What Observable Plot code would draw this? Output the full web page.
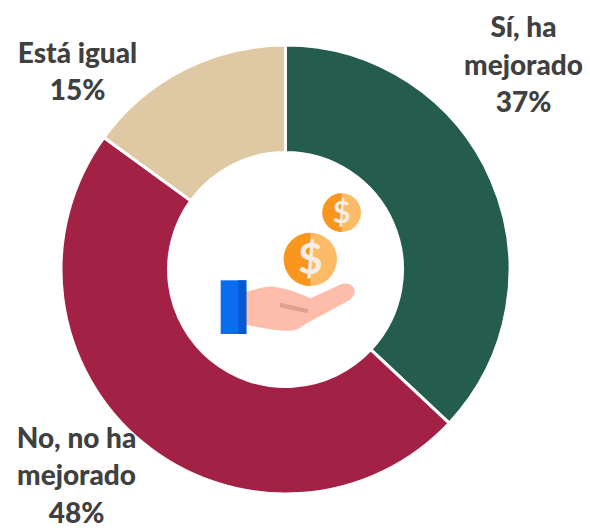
<!DOCTYPE html>
<html><head><meta charset="utf-8">
<style>html,body{margin:0;padding:0;background:#fff}svg{display:block}</style>
<script src="https://cdn.jsdelivr.net/npm/d3@7"></script>
<script src="https://cdn.jsdelivr.net/npm/@observablehq/plot@0.6"></script>
</head><body><div id="c"></div>
<script>
const categories = ["Sí, ha\nmejorado", "No, no ha\nmejorado", "Está igual"];
const shares = [37, 48, 15];
const colors = ["#245C4E", "#A32145", "#DFC9A4"];

const W = 590, H = 528, CX = 285.5, CY = 269.5, R = 224.5, INNER = 117 / R;
const labelAt = [[523, 62], [76, 472.5], [77, 69]];
const rows = categories.map((c, i) => ({category: c, share: shares[i], text: `${c}\n${shares[i]}%`,
  lx: (labelAt[i][0] - CX) / R, ly: (CY - labelAt[i][1]) / R}));
const pie = d3.pie().value(d => d.share).sort(null)(rows);

function slices(index, scales) {
  const k = scales.x(1) - scales.x(0), ox = scales.x(0), oy = scales.y(0);
  const arc = d3.arc().innerRadius(INNER * k).outerRadius(k);
  const g = d3.create("svg:g").attr("transform", `translate(${ox},${oy})`);
  for (const i of index) {
    g.append("path").attr("d", arc(pie[i])).attr("fill", scales.color(pie[i].data.category))
      .attr("stroke", "#fff").attr("stroke-width", 3).attr("stroke-linejoin", "miter");
  }
  return g.node();
}

function icon(index, scales) {
  const g = d3.create("svg:g")
    .attr("transform", `translate(${scales.x(0)},${scales.y(0)}) translate(${200 - CX},${180 - CY}) scale(${1 / 3})`);
  g.html(`
    <path d="M138 335 C165 330 195 318 220 320 C260 325 300 340 332 355 L420 314 C440 304 462 315 464 332 C465 348 452 358 440 365 L320 430 C305 442 290 452 270 452 C225 452 180 442 138 435 Z" fill="#FDBDAA"/>
    <path d="M240 368 L326 388 L322 400 L240 382 Z" fill="#DFA08F"/>
    <rect x="62" y="301" width="77" height="161" fill="#0A6CEE"/>
    <rect x="115" y="301" width="24" height="161" fill="#0659CF"/>
    <circle cx="331" cy="238" r="80" fill="#FDBB68"/>
    <path d="M331 158 A80 80 0 0 0 331 318 Z" fill="#F8961E"/>
    <text x="331" y="283" text-anchor="middle" font-family="Lato" font-weight="700" font-size="128" fill="#F6EEE4">$</text>
    <circle cx="425" cy="98" r="58" fill="#FDBB68"/>
    <path d="M425 40 A58 58 0 0 0 425 156 Z" fill="#F8961E"/>
    <text x="425" y="130" text-anchor="middle" font-family="Lato" font-weight="700" font-size="92" fill="#F6EEE4">$</text>`);
  return g.node();
}

const chart = Plot.plot({
  width: W, height: H, margin: 0,
  x: {domain: [-CX / R, (W - CX) / R], range: [0, W], axis: null},
  y: {domain: [(CY - H) / R, CY / R], range: [H, 0], axis: null},
  color: {domain: categories, range: colors},
  style: {background: "#fff"},
  marks: [
    Plot.dot(rows, {x: 0, y: 0, fill: "category", render: slices}),
    Plot.dot([0], {x: 0, y: 0, render: icon}),
    Plot.text(rows, {x: "lx", y: "ly", text: "text", lineHeight: 1.34, fontSize: 28,
      fontWeight: 900, fontFamily: "Lato", fill: "#404040", textAnchor: "middle"})
  ]
});
document.getElementById("c").append(chart);
</script></body></html>
